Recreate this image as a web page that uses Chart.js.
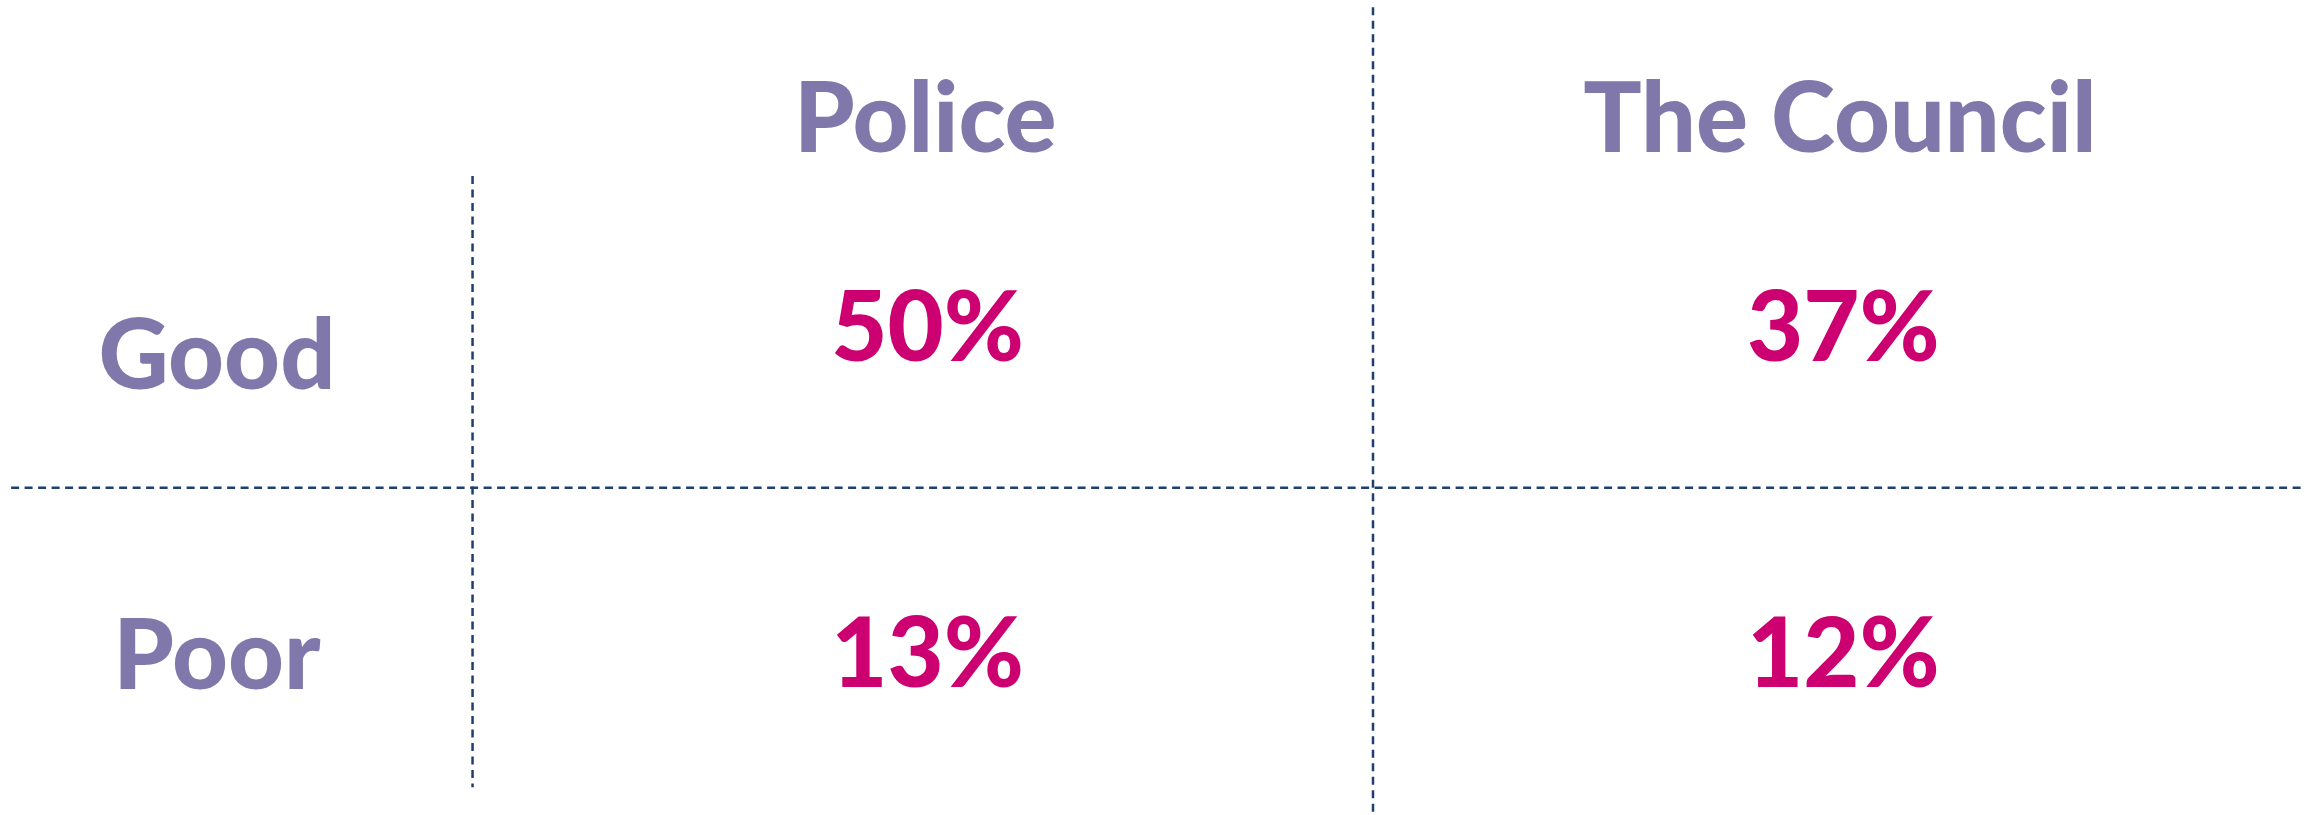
<!DOCTYPE html>
<html>
<head>
<meta charset="utf-8">
<script src="https://cdn.jsdelivr.net/npm/chart.js@4/dist/chart.umd.min.js"></script>
<style>
  html, body { margin: 0; padding: 0; background: #fff; }
  #wrap { width: 2313px; height: 815px; position: relative; }
</style>
</head>
<body>
<div id="wrap"><canvas id="grid-chart"></canvas></div>
<script>
// table data
var rowLabels = ["Good", "Poor"];
var colLabels = ["Police", "The Council"];
var police = [50, 13];
var council = [37, 12];

// layout, in percent of the drawing area (y runs top to bottom)
var rowLabelX = 9.38;
var headX = [40.0, 79.55];
var valueX = [40.1, 79.7];
var headY = 18.7;
var rowLabelY = [47.7, 84.5];
var valueY = [44.3, 84.3];

var PURPLE = "#8078AB";
var MAGENTA = "#CC0071";
var LINE = "#1F3F6E";
var FONT = "900 97px Lato, 'Open Sans', sans-serif";

function dashed(points) {
  return {
    type: "scatter",
    data: points,
    showLine: true,
    borderColor: LINE,
    borderWidth: 2.5,
    borderDash: [8, 5.5],
    pointRadius: 0,
    fill: false
  };
}

function textSet(points, labels, color) {
  return {
    type: "scatter",
    data: points,
    pointRadius: 0,
    textLabels: labels,
    textColor: color
  };
}

var textPlugin = {
  id: "cellText",
  afterDatasetsDraw: function (chart) {
    var ctx = chart.ctx;
    chart.data.datasets.forEach(function (ds, i) {
      if (!ds.textLabels) return;
      var meta = chart.getDatasetMeta(i);
      ctx.save();
      ctx.font = FONT;
      ctx.fillStyle = ds.textColor;
      ctx.textAlign = "center";
      ctx.textBaseline = "alphabetic";
      meta.data.forEach(function (pt, j) {
        ctx.fillText(ds.textLabels[j], pt.x, pt.y);
      });
      ctx.restore();
    });
  }
};

var datasets = [
  // horizontal divider between rows
  dashed([{ x: 0.48, y: 59.84 }, { x: 99.7, y: 59.84 }]),
  // divider after the row labels
  dashed([{ x: 20.43, y: 21.6 }, { x: 20.43, y: 96.6 }]),
  // divider between the two columns
  dashed([{ x: 59.36, y: 0.9 }, { x: 59.36, y: 100 }]),
  textSet(colLabels.map(function (_, i) { return { x: headX[i], y: headY }; }), colLabels, PURPLE),
  textSet(rowLabels.map(function (_, i) { return { x: rowLabelX, y: rowLabelY[i] }; }), rowLabels, PURPLE),
  textSet(police.map(function (_, i) { return { x: valueX[0], y: valueY[i] }; }),
    police.map(function (v) { return v + "%"; }), MAGENTA),
  textSet(council.map(function (_, i) { return { x: valueX[1], y: valueY[i] }; }),
    council.map(function (v) { return v + "%"; }), MAGENTA)
];

new Chart(document.getElementById("grid-chart").getContext("2d"), {
  type: "scatter",
  data: { datasets: datasets },
  options: {
    responsive: true,
    maintainAspectRatio: false,
    animation: false,
    events: [],
    layout: { padding: 0 },
    plugins: { legend: { display: false }, tooltip: { enabled: false } },
    scales: {
      x: { type: "linear", min: 0, max: 100, display: false },
      y: { type: "linear", min: 0, max: 100, reverse: true, display: false }
    }
  },
  plugins: [textPlugin]
});
</script>
</body>
</html>
